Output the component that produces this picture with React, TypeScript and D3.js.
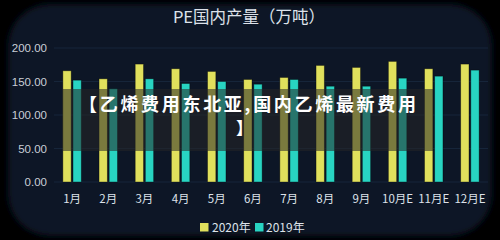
import React from "react";
import * as d3 from "d3";

const months = ["1月", "2月", "3月", "4月", "5月", "6月", "7月", "8月", "9月", "10月E", "11月E", "12月E"];
const series = ["2020年", "2019年"];
const values2020 = [166, 154, 176, 169, 165, 153, 156, 174, 171, 180, 169, 176];
const values2019 = [152, 139, 154, 147, 150, 146, 153, 143, 143, 155, 158, 167];
const yTicks = [0, 50, 100, 150, 200];
const colors = ["#e0e05c", "#28d4c2"];

const W = 500;
const H = 240;
const margin = { top: 48, right: 12, bottom: 58, left: 54 };

function App() {
  const x0 = d3
    .scaleBand()
    .domain(months)
    .range([margin.left, W - margin.right])
    .paddingInner(0.49)
    .paddingOuter(0.245);
  const x1 = d3.scaleBand().domain(series).range([0, x0.bandwidth()]).paddingInner(0.18);
  const y = d3.scaleLinear().domain([0, 200]).range([H - margin.bottom, margin.top]);
  const data = [values2020, values2019];
  const cjk = "'Noto Sans CJK SC', 'Noto Sans', sans-serif";

  return (
    <div style={{ position: "fixed", left: 0, top: 0 }}>
      <svg width={W} height={H} style={{ display: "block" }}>
        <defs>
          <filter id="soft" x="-10%" y="-10%" width="120%" height="120%">
            <feGaussianBlur stdDeviation="3" />
          </filter>
        </defs>
        <rect width={W} height={H} fill="#000" />
        <rect x={8} y={4} width={W - 16} height={H - 8} rx={42} fill="#0a1526" filter="url(#soft)" />

        <text x={249} y={23} textAnchor="middle" fontFamily={cjk} fontSize={16.5} fill="#dde2ea">
          PE国内产量（万吨）
        </text>

        {yTicks.map((t) => (
          <g key={t}>
            <line x1={margin.left} x2={W - margin.right} y1={y(t)} y2={y(t)} stroke="#16253a" strokeWidth={1} />
            <text x={47} y={y(t) + 4} textAnchor="end" fontFamily="'Liberation Sans', sans-serif" fontSize={11.5} fill="#c9ced6">
              {t.toFixed(2)}
            </text>
          </g>
        ))}

        {months.map((m, i) => (
          <g key={m} transform={`translate(${x0(m)},0)`}>
            {series.map((s, k) => (
              <rect
                key={s}
                x={x1(s)}
                y={y(data[k][i])}
                width={x1.bandwidth()}
                height={y(0) - y(data[k][i])}
                fill={colors[k]}
                stroke="rgba(0,0,0,0.45)"
                strokeWidth={0.8}
              />
            ))}
          </g>
        ))}

        {months.map((m) => (
          <text
            key={m}
            x={(x0(m) as number) + x0.bandwidth() / 2}
            y={203}
            textAnchor="middle"
            fontFamily={cjk}
            fontSize={11.5}
            fill="#dde2ea"
          >
            {m}
          </text>
        ))}

        <g>
          <rect x={200} y={223} width={8.5} height={8.5} fill={colors[0]} />
          <text x={212} y={231.5} fontFamily={cjk} fontSize={12} fill="#dde2ea">
            {series[0]}
          </text>
          <rect x={255} y={223} width={8.5} height={8.5} fill={colors[1]} />
          <text x={266} y={231.5} fontFamily={cjk} fontSize={12} fill="#dde2ea">
            {series[1]}
          </text>
        </g>

        <rect x={63} y={89} width={370} height={62} fill="#262626" opacity={0.55} />
        <text x={79} y={111} fontFamily={cjk} fontWeight={700} fontSize={18} fill="#ffffff" textLength={337} lengthAdjust="spacing">
          【乙烯费用东北亚,国内乙烯最新费用
        </text>
        <text x={236} y={135} fontFamily={cjk} fontWeight={700} fontSize={17} fill="#ffffff">
          】
        </text>
      </svg>
    </div>
  );
}

export default App;
